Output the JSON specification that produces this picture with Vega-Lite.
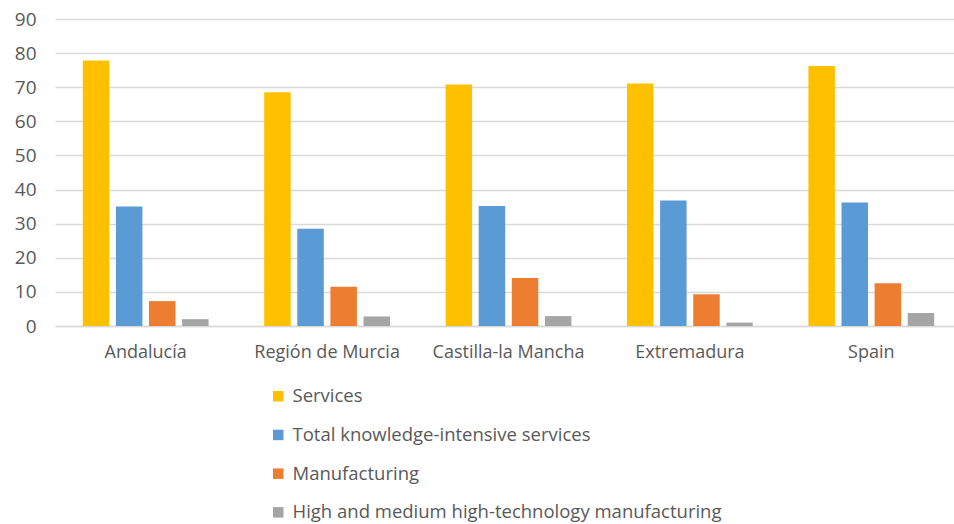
{
  "$schema": "https://vega.github.io/schema/vega-lite/v6.json",
  "autosize": "none",
  "width": 907,
  "height": 307,
  "padding": {"left": 55, "top": 19, "right": 0, "bottom": 198},
  "background": "white",
  "config": {
    "view": {"stroke": null},
    "font": "Open Sans"
  },
  "data": {
    "values": [
      {"region": "Andalucía", "sector": "Services", "value": 77.8},
      {"region": "Andalucía", "sector": "Total knowledge-intensive services", "value": 35.0},
      {"region": "Andalucía", "sector": "Manufacturing", "value": 7.3},
      {"region": "Andalucía", "sector": "High and medium high-technology manufacturing", "value": 2.0},
      {"region": "Región de Murcia", "sector": "Services", "value": 68.5},
      {"region": "Región de Murcia", "sector": "Total knowledge-intensive services", "value": 28.5},
      {"region": "Región de Murcia", "sector": "Manufacturing", "value": 11.5},
      {"region": "Región de Murcia", "sector": "High and medium high-technology manufacturing", "value": 2.8},
      {"region": "Castilla-la Mancha", "sector": "Services", "value": 70.8},
      {"region": "Castilla-la Mancha", "sector": "Total knowledge-intensive services", "value": 35.2},
      {"region": "Castilla-la Mancha", "sector": "Manufacturing", "value": 14.1},
      {"region": "Castilla-la Mancha", "sector": "High and medium high-technology manufacturing", "value": 2.9},
      {"region": "Extremadura", "sector": "Services", "value": 71.1},
      {"region": "Extremadura", "sector": "Total knowledge-intensive services", "value": 36.8},
      {"region": "Extremadura", "sector": "Manufacturing", "value": 9.3},
      {"region": "Extremadura", "sector": "High and medium high-technology manufacturing", "value": 1.0},
      {"region": "Spain", "sector": "Services", "value": 76.2},
      {"region": "Spain", "sector": "Total knowledge-intensive services", "value": 36.2},
      {"region": "Spain", "sector": "Manufacturing", "value": 12.5},
      {"region": "Spain", "sector": "High and medium high-technology manufacturing", "value": 3.8}
    ]
  },
  "mark": {"type": "bar"},
  "encoding": {
    "x": {
      "field": "region",
      "type": "nominal",
      "sort": null,
      "scale": {"paddingInner": 0.27, "paddingOuter": 0.135},
      "axis": {
        "title": null,
        "labelAngle": 0,
        "labelFontSize": 18,
        "labelColor": "#595959",
        "labelPadding": 17,
        "ticks": false,
        "domainColor": "#d9d9d9",
        "domainWidth": 1.5,
        "grid": false
      }
    },
    "xOffset": {
      "field": "sector",
      "type": "nominal",
      "sort": ["Services", "Total knowledge-intensive services", "Manufacturing", "High and medium high-technology manufacturing"],
      "scale": {"paddingInner": 0.2, "paddingOuter": 0.1}
    },
    "y": {
      "field": "value",
      "type": "quantitative",
      "scale": {"domain": [0, 90]},
      "axis": {
        "title": null,
        "values": [0, 10, 20, 30, 40, 50, 60, 70, 80, 90],
        "labelFontSize": 19,
        "labelColor": "#595959",
        "labelPadding": 19,
        "ticks": false,
        "domain": false,
        "gridColor": "#d9d9d9",
        "gridWidth": 1.5
      }
    },
    "color": {
      "field": "sector",
      "type": "nominal",
      "sort": ["Services", "Total knowledge-intensive services", "Manufacturing", "High and medium high-technology manufacturing"],
      "scale": {
        "domain": ["Services", "Total knowledge-intensive services", "Manufacturing", "High and medium high-technology manufacturing"],
        "range": ["#FFC000", "#5B9BD5", "#ED7D31", "#A5A5A5"]
      },
      "legend": {
        "title": null,
        "orient": "none",
        "legendX": 214,
        "legendY": 368,
        "direction": "vertical",
        "symbolType": "square",
        "symbolSize": 110,
        "symbolStrokeWidth": 0,
        "labelFontSize": 18.5,
        "labelColor": "#595959",
        "labelOffset": 5,
        "rowPadding": 19.7,
        "labelLimit": 700
      }
    }
  }
}
